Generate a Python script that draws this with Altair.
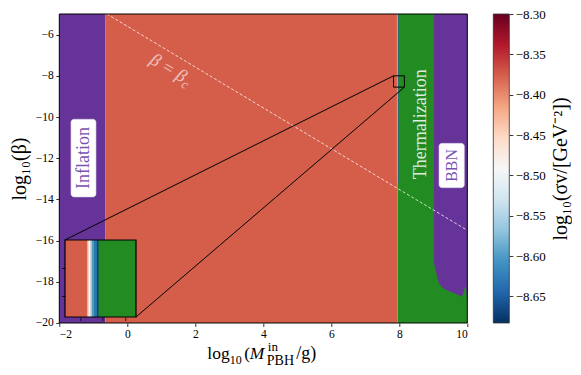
import altair as alt
import numpy as np
import pandas as pd

# ---------------- values ----------------
M_RANGE = [-2.0, 10.0]          # log10(M_PBH^in / g)
BETA_RANGE = [-20.0, -5.0]      # log10(beta)
SIGMA_RANGE = [-8.683, -8.30]   # colour-bar range, log10(sigma v / GeV^-2)

x_ticks = [-2, 0, 2, 4, 6, 8, 10]
y_ticks = [-20, -18, -16, -14, -12, -10, -8, -6]
cbar_ticks = [-8.65, -8.60, -8.55, -8.50, -8.45, -8.40, -8.35, -8.30]

# constraint regions (log10 M boundaries)
inflation_x = [-2.0, -0.64]
allowed_x = [-0.64, 7.95]
allowed_sigma = -8.375
thermal_x = [7.95, 10.0]

# BBN region: lower edge of the excluded (purple) area
bbn_edge_x = [9.02, 9.05, 9.08, 9.12, 9.17, 9.30, 9.50, 9.70, 9.82, 9.87, 9.91, 9.95, 9.98, 10.0]
bbn_edge_y = [-17.1, -17.3, -17.5, -17.8, -18.1, -18.33, -18.48, -18.6, -18.72, -18.62, -18.35, -18.2, -18.6, -18.9]

# narrow transition band at the thermalization edge (visible in the inset)
band_x0 = [7.929, 7.934, 7.938, 7.943, 7.947, 7.952, 7.961, 7.974]
band_x1 = [7.934, 7.938, 7.943, 7.947, 7.952, 7.961, 7.974, 7.981]
band_sigma = [-8.42, -8.46, -8.49, -8.53, -8.56, -8.60, -8.63, -8.67]
band_beta = [-13.2, -5.0]

# beta = beta_c line
betac_x = [-0.60, 10.0]
betac_y = [-5.0, -15.5]

# zoom window shown in the inset
zoom_x = [7.83, 8.15]
zoom_y = [-8.55, -8.0]
inset_x_ticks = [7.9, 8.0, 8.1]
inset_y_ticks = [-8.4, -8.2]

# ---------------- style / layout ----------------
W, H = 408, 309
INSET_PX = [5.7, 76.7]        # inset horizontal pixel range in plot
INSET_PY = [303.0, 226.0]     # inset vertical pixel range (bottom, top)
CBAR_GAP, CBAR_W = 26, 16
PURPLE = "#663399"
GREEN = "#228b22"
PURPLE_TXT = "#7a52b0"
FONT = "Liberation Serif"
RDBU_R = ["#053061", "#2166ac", "#4393c3", "#92c5de", "#d1e5f0", "#f7f7f7",
          "#fddbc7", "#f4a582", "#d6604d", "#b2182b", "#67001f"]

XS = alt.Scale(domain=M_RANGE, nice=False, zero=False)
YS = alt.Scale(domain=BETA_RANGE, nice=False, zero=False)
CS = alt.Scale(domain=[float(v) for v in np.linspace(SIGMA_RANGE[0], SIGMA_RANGE[1], len(RDBU_R))],
               range=RDBU_R)
IXS = alt.Scale(domain=zoom_x, range=INSET_PX, clamp=True, nice=False, zero=False)
IYS = alt.Scale(domain=zoom_y, range=INSET_PY, clamp=True, nice=False, zero=False)

# ---------------- tables ----------------
regions = pd.DataFrame({
    "x0": [inflation_x[0], thermal_x[0]],
    "x1": [inflation_x[1], thermal_x[1]],
    "y0": BETA_RANGE[0], "y1": BETA_RANGE[1],
    "kind": ["Inflation", "Thermalization"],
})
allowed = pd.DataFrame({"x0": [allowed_x[0]], "x1": [allowed_x[1]],
                        "y0": BETA_RANGE[0], "y1": BETA_RANGE[1], "sigma": [allowed_sigma]})
band = pd.DataFrame({"x0": band_x0, "x1": band_x1, "y0": band_beta[0], "y1": band_beta[1],
                     "sigma": band_sigma})
bbn = pd.DataFrame({"x": bbn_edge_x, "y": bbn_edge_y, "top": BETA_RANGE[1]})
betac = pd.DataFrame({"x": betac_x, "y": betac_y})
zoom = pd.DataFrame({"x0": [zoom_x[0]], "x1": [zoom_x[1]], "y0": [zoom_y[0]], "y1": [zoom_y[1]]})
frame = pd.DataFrame({"x0": [M_RANGE[0]], "x1": [M_RANGE[1]], "y0": [BETA_RANGE[0]], "y1": [BETA_RANGE[1]]})
one = pd.DataFrame({"a": [0]})

x_axis = alt.Axis(orient="bottom", values=x_ticks, format="d", title=None, zindex=1)
y_axis = alt.Axis(orient="left", values=y_ticks, format="d", title="log₁₀(β)",
                  titlePadding=6, titleFontSize=20, zindex=1)


def rect_enc(chart, xs, ys, xa=None, ya=None):
    xkw = {"scale": xs}
    ykw = {"scale": ys}
    if xa is not None:
        xkw["axis"] = xa
    if ya is not None:
        ykw["axis"] = ya
    return chart.encode(x=alt.X("x0:Q", **xkw), x2="x1:Q", y=alt.Y("y0:Q", **ykw), y2="y1:Q")


# ---------------- main panel ----------------
reg = rect_enc(alt.Chart(regions).mark_rect(), XS, YS, x_axis, y_axis).encode(
    fill=alt.Fill("kind:N", scale=alt.Scale(domain=["Inflation", "Thermalization"],
                                            range=[PURPLE, GREEN]), legend=None))
allow = rect_enc(alt.Chart(allowed).mark_rect(), XS, YS).encode(
    color=alt.Color("sigma:Q", scale=CS, legend=None))
bbn_area = alt.Chart(bbn).mark_area(color=PURPLE, orient="vertical").encode(
    x=alt.X("x:Q", scale=XS), y=alt.Y("y:Q", scale=YS), y2="top:Q")
band_main = rect_enc(alt.Chart(band).mark_rect(), XS, YS).encode(
    color=alt.Color("sigma:Q", scale=CS, legend=None))
bline = alt.Chart(betac).mark_line(color="white", strokeWidth=0.8, strokeDash=[3, 2], opacity=0.95).encode(
    x=alt.X("x:Q", scale=XS), y=alt.Y("y:Q", scale=YS))

# annotation boxes and texts
ann_boxes = pd.DataFrame({"x0": [-1.656, 9.168], "x1": [-0.921, 9.912],
                          "y0": [-13.88, -13.43], "y1": [-10.11, -11.28]})
boxes = rect_enc(alt.Chart(ann_boxes).mark_rect(fill="white", cornerRadius=3, stroke="#d8cfe8",
                                                strokeWidth=0.6), XS, YS)


def label(text, x, y, angle, size, color, opacity=1.0, style="normal", align="center",
          baseline="middle", dx=0, dy=0):
    return alt.Chart(pd.DataFrame({"x": [x], "y": [y], "t": [text]})).mark_text(
        angle=angle, fontSize=size, color=color, opacity=opacity, font=FONT, fontStyle=style,
        align=align, baseline=baseline, dx=dx, dy=dy).encode(
        x=alt.X("x:Q", scale=XS), y=alt.Y("y:Q", scale=YS), text="t:N")


t_infl = label("Inflation", -1.288, -11.99, 270, 18, PURPLE_TXT)
t_bbn = label("BBN", 9.541, -12.35, 270, 16, PURPLE_TXT)
t_therm = label("Thermalization", 8.64, -10.35, 270, 18, "white", opacity=0.85)
t_beta = label("β = β", 1.30, -7.75, 31, 18, "white", opacity=0.6, style="italic", dx=-4)
t_beta_c = label("c", 1.30, -7.75, 31, 13, "white", opacity=0.6, style="italic", align="left",
                 dx=16, dy=5)

zoom_box = rect_enc(alt.Chart(zoom).mark_rect(fillOpacity=0, stroke="black", strokeWidth=1), XS, YS)
conn1 = alt.Chart(pd.DataFrame({"x": [zoom_x[0]], "y": [zoom_y[1]]})).mark_rule(
    color="black", strokeWidth=1).encode(
    x=alt.X("x:Q", scale=XS), y=alt.Y("y:Q", scale=YS),
    x2=alt.value(INSET_PX[0]), y2=alt.value(INSET_PY[1]))
conn2 = alt.Chart(pd.DataFrame({"x": [zoom_x[1]], "y": [zoom_y[0]]})).mark_rule(
    color="black", strokeWidth=1).encode(
    x=alt.X("x:Q", scale=XS), y=alt.Y("y:Q", scale=YS),
    x2=alt.value(INSET_PX[1]), y2=alt.value(INSET_PY[0]))
frame_r = rect_enc(alt.Chart(frame).mark_rect(fillOpacity=0, stroke="black", strokeWidth=1), XS, YS)


# x-axis title built from pieces (sub/superscripts)
def piece(text, px, py, size, style="normal"):
    return alt.Chart(one).mark_text(text=text, font=FONT, fontSize=size, fontStyle=style,
                                    align="left", baseline="alphabetic", color="black").encode(
        x=alt.value(px), y=alt.value(py))


xt = [
    piece("log", 148, 345.3, 17.5),
    piece("10", 170.5, 349.8, 12),
    piece("(", 185, 345.3, 17.5),
    piece("M", 190.5, 345.3, 17.5, "italic"),
    piece("in", 208.5, 337.5, 13),
    piece("PBH", 207.5, 351, 14),
    piece("/g)", 237, 345.3, 18),
]

main = alt.layer(reg, allow, bbn_area, band_main, bline, boxes, t_infl, t_bbn, t_therm,
                 t_beta, t_beta_c, zoom_box, conn1, conn2, frame_r, *xt)

# ---------------- inset ----------------
ix_axis = alt.Axis(orient="bottom", values=inset_x_ticks, labels=False, title=None, domain=False,
                   offset=-(H - INSET_PY[0]), zindex=1, tickSize=3.5)
iy_axis = alt.Axis(orient="left", values=inset_y_ticks, labels=False, title=None, domain=False,
                   offset=-INSET_PX[0], zindex=1, tickSize=3.5)
in_red = rect_enc(alt.Chart(allowed).mark_rect(), IXS, IYS, ix_axis, iy_axis).encode(
    color=alt.Color("sigma:Q", scale=CS, legend=None))
in_green = rect_enc(alt.Chart(regions[regions.kind == "Thermalization"]).mark_rect(color=GREEN), IXS, IYS)
in_band = rect_enc(alt.Chart(band).mark_rect(), IXS, IYS).encode(
    color=alt.Color("sigma:Q", scale=CS, legend=None))
in_frame = rect_enc(alt.Chart(zoom).mark_rect(fillOpacity=0, stroke="black", strokeWidth=1.2), IXS, IYS)
inset = alt.layer(in_red, in_green, in_band, in_frame)

# ---------------- colour bar ----------------
grad = {"gradient": "linear", "x1": 0, "y1": 1, "x2": 0, "y2": 0,
        "stops": [{"offset": i / (len(RDBU_R) - 1), "color": c} for i, c in enumerate(RDBU_R)]}
cb_axis = alt.Axis(orient="right", offset=CBAR_GAP + CBAR_W, values=cbar_ticks, format=".2f",
                   title="log₁₀(σv/[GeV⁻²])", titleAngle=270, titleBaseline="top",
                   titlePadding=5, titleFontSize=20, labelFontSize=13, zindex=1)
cbar = alt.Chart(pd.DataFrame({"lo": [SIGMA_RANGE[0]], "hi": [SIGMA_RANGE[1]]})).mark_rect(
    fill=grad, stroke="#333333", strokeWidth=0.8).encode(
    x=alt.value(W + CBAR_GAP), x2=alt.value(W + CBAR_GAP + CBAR_W),
    y=alt.Y("lo:Q", scale=alt.Scale(domain=SIGMA_RANGE, nice=False, zero=False), axis=cb_axis),
    y2="hi:Q")

chart = alt.layer(main, inset, cbar).resolve_scale(x="independent", y="independent").properties(
    width=W, height=H,
    autosize=alt.AutoSizeParams(type="none"),
    padding={"left": 51.3, "top": 6, "right": 105, "bottom": 44},
).configure_view(stroke=None).configure_axis(
    labelFont=FONT, titleFont=FONT, labelFontSize=11.5, titleFontSize=17.5, titleFontWeight="normal",
    labelColor="black", titleColor="black", tickColor="black", tickSize=3.5, tickWidth=0.8,
    labelPadding=2.5, grid=False, domain=False,
)

chart.save("out.html", embed_options={"renderer": "svg", "actions": False})
